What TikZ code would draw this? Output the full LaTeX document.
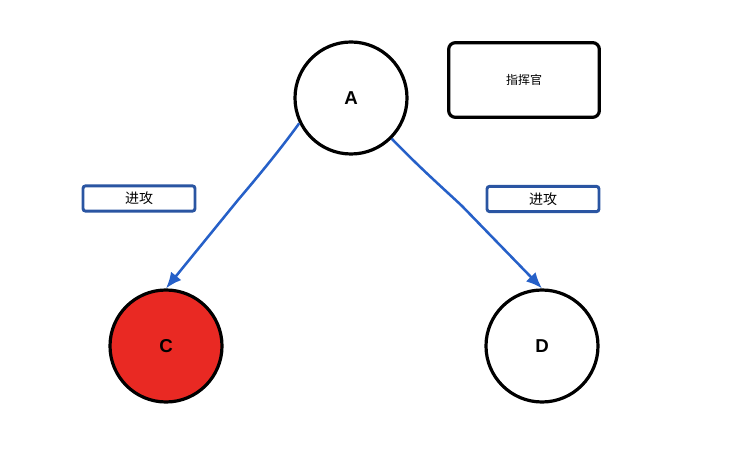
\documentclass[tikz,border=0pt]{standalone}
\usepackage{fontspec}
\setmainfont{Liberation Sans}
\newfontfamily\cjk{Noto Sans CJK SC}
\usetikzlibrary{arrows.meta}
\definecolor{cred}{HTML}{E92923}
\definecolor{cblue}{HTML}{2660C8}
\definecolor{bblue}{HTML}{2A55A2}
\begin{document}
\begin{tikzpicture}[x=0.75pt,y=-0.75pt,
  circnode/.style={circle,draw=black,line width=2.4pt,minimum size=84pt,inner sep=0pt,font=\bfseries\fontsize{14}{16}\selectfont},
  cmdbox/.style={draw=black,line width=2.4pt,rounded corners=5pt,minimum width=113pt,minimum height=56pt,inner sep=0pt,font=\cjk\fontsize{9}{11}\selectfont},
  atkbox/.style={draw=bblue,line width=2.2pt,rounded corners=2pt,minimum width=84pt,minimum height=19pt,inner sep=0pt,font=\cjk\fontsize{10.5}{12}\selectfont},
  atk/.style={draw=cblue,line width=1.9pt,-{Latex[length=12pt,width=10pt]}}]
\useasboundingbox (0,0) rectangle (745,459);
\node[circnode] (A) at (351,98) {A};
\node[circnode,fill=cred] (C) at (166,346) {C};
\node[circnode] (D) at (542,346) {D};
\node[cmdbox] (cmd) at (524,80) {指挥官};
\node[atkbox] (l1) at (139,198.5) {进攻};
\node[atkbox] (l2) at (543,199) {进攻};
\draw[atk] (A.{206}) .. controls (280,150) and (255,180) .. (238,200) -- (C.north);
\draw[atk] (A.{-45}) .. controls (420,168) and (445,190) .. (462,206) -- (D.north);
\end{tikzpicture}
\end{document}
